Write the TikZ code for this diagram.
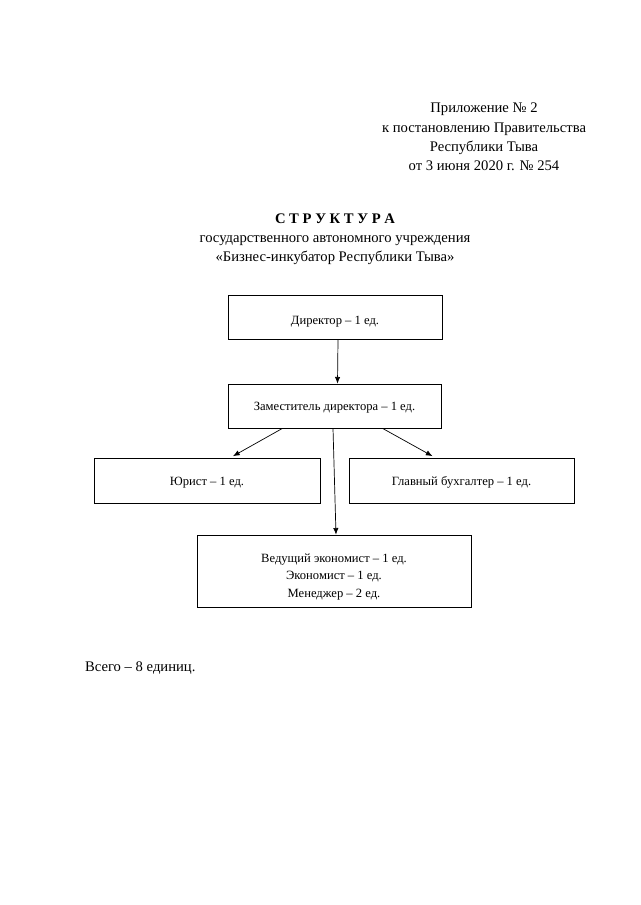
\documentclass[tikz,border=0pt]{standalone}
\usepackage{fontspec}
\setmainfont{Liberation Serif}
\usetikzlibrary{arrows.meta}

% move box text down a little without changing the box
\newcommand{\sunk}[2]{\raisebox{-#1}[\height][\depth]{#2}}

\tikzset{
  unitbox/.style={draw, line width=0.6pt, align=center, font=\fontsize{10.75}{14.7}\selectfont, inner sep=2pt},
  headtext/.style={align=center, font=\fontsize{12.5}{16.6}\selectfont},
  link/.style={line width=0.6pt, -{Latex[length=2mm,width=1.6mm]}}
}

\begin{document}
\begin{tikzpicture}[x=0.03cm, y=-0.03cm]
  % page frame (640 x 905 px)
  \useasboundingbox (0,0) rectangle (640,905);

  % annex heading
  \node[headtext] (annex) at (484,137) {Приложение № 2\\к постановлению Правительства\\Республики Тыва\\от 3 июня 2020 г. № 254};

  % title
  \node[headtext, font=\fontsize{12.5}{16.6}\selectfont\bfseries] (title) at (335,219) {С Т Р У К Т У Р А};
  \node[headtext] (subtitle) at (335,250) {государственного автономного учреждения\\«Бизнес-инкубатор Республики Тыва»};

  % boxes
  \node[unitbox, minimum width=214*0.03cm, minimum height=44*0.03cm] (dir) at (335,317) {\sunk{4pt}{Директор – 1 ед.}};
  \node[unitbox, minimum width=213*0.03cm, minimum height=44*0.03cm] (dep) at (334.5,406) {\sunk{1.5pt}{Заместитель директора – 1 ед.}};
  \node[unitbox, minimum width=226*0.03cm, minimum height=45*0.03cm] (law) at (207,480.5) {\sunk{2pt}{Юрист – 1 ед.}};
  \node[unitbox, minimum width=225*0.03cm, minimum height=45*0.03cm] (acc) at (461.5,480.5) {\sunk{2pt}{Главный бухгалтер – 1 ед.}};
  \node[unitbox, minimum width=274*0.03cm, minimum height=72*0.03cm] (eco) at (334,571) {\sunk{5pt}{\parbox{6cm}{\centering Ведущий экономист – 1 ед.\\Экономист – 1 ед.\\Менеджер – 2 ед.}}};

  % arrows
  \draw[link] ([xshift=3*0.03cm]dir.south) -- ([xshift=3*0.03cm]dep.north);
  \draw[link] ([xshift=-52*0.03cm]dep.south) -- ([xshift=26*0.03cm, yshift=1.5*0.03cm]law.north);
  \draw[link] ([xshift=48*0.03cm]dep.south) -- ([xshift=-29*0.03cm, yshift=1.5*0.03cm]acc.north);
  \draw[link] ([xshift=-1.5*0.03cm]dep.south) -- ([xshift=2*0.03cm]eco.north);

  % total
  \node[headtext, anchor=west] (total) at (81,668) {Всего – 8 единиц.};
\end{tikzpicture}
\end{document}
